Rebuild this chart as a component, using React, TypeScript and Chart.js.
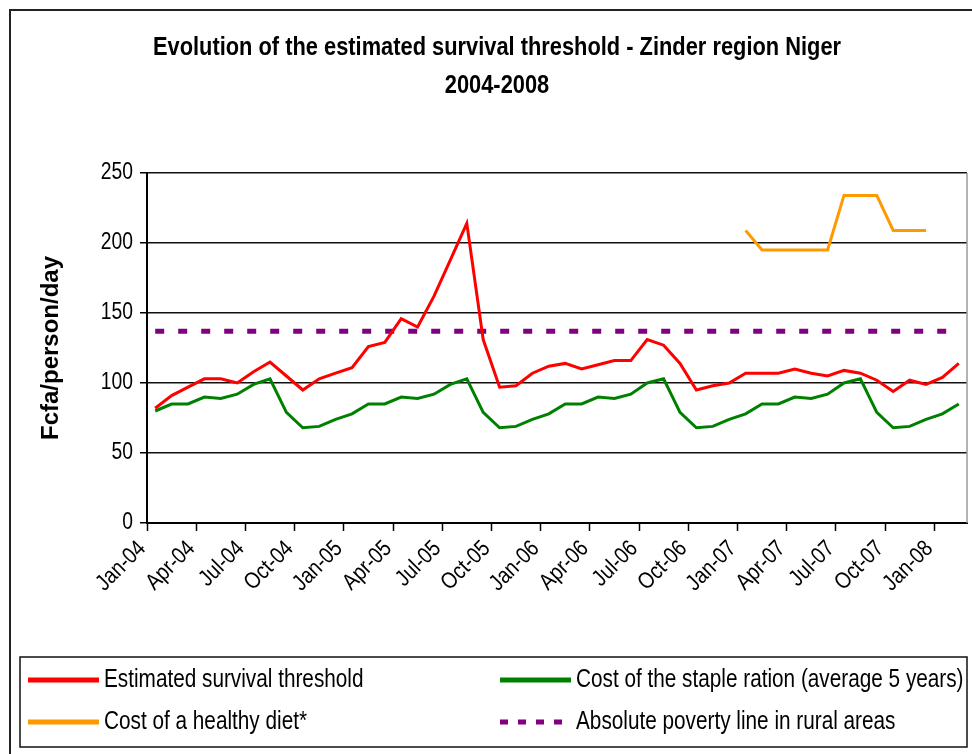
import React, { useEffect, useRef } from 'react';
import { Chart, registerables } from 'chart.js';

Chart.register(...registerables);

// ---------- data ----------
const months = [
  'Jan-04', 'Feb-04', 'Mar-04', 'Apr-04', 'May-04', 'Jun-04', 'Jul-04', 'Aug-04', 'Sep-04', 'Oct-04', 'Nov-04', 'Dec-04',
  'Jan-05', 'Feb-05', 'Mar-05', 'Apr-05', 'May-05', 'Jun-05', 'Jul-05', 'Aug-05', 'Sep-05', 'Oct-05', 'Nov-05', 'Dec-05',
  'Jan-06', 'Feb-06', 'Mar-06', 'Apr-06', 'May-06', 'Jun-06', 'Jul-06', 'Aug-06', 'Sep-06', 'Oct-06', 'Nov-06', 'Dec-06',
  'Jan-07', 'Feb-07', 'Mar-07', 'Apr-07', 'May-07', 'Jun-07', 'Jul-07', 'Aug-07', 'Sep-07', 'Oct-07', 'Nov-07', 'Dec-07',
  'Jan-08', 'Feb-08',
];

const survivalThreshold = [
  82, 91, 97, 103, 103, 100, 108, 115, 105, 95, 103, 107,
  111, 126, 129, 146, 140, 162, 188, 214, 131, 97, 98, 107,
  112, 114, 110, 113, 116, 116, 131, 127, 114, 95, 98, 100,
  107, 107, 107, 110, 107, 105, 109, 107, 102, 94, 102, 99,
  104, 114,
];

const stapleRationCost = [
  80, 85, 85, 90, 89, 92, 99, 103, 79, 68, 69, 74,
  78, 85, 85, 90, 89, 92, 99, 103, 79, 68, 69, 74,
  78, 85, 85, 90, 89, 92, 100, 103, 79, 68, 69, 74,
  78, 85, 85, 90, 89, 92, 100, 103, 79, 68, 69, 74,
  78, 85,
];

const healthyDietCost = [
  null, null, null, null, null, null, null, null, null, null, null, null,
  null, null, null, null, null, null, null, null, null, null, null, null,
  null, null, null, null, null, null, null, null, null, null, null, null,
  209, 195, 195, 195, 195, 195, 234, 234, 234, 209, 209, 209,
  null, null,
];

const povertyLine = [
  137, 137, 137, 137, 137, 137, 137, 137, 137, 137, 137, 137,
  137, 137, 137, 137, 137, 137, 137, 137, 137, 137, 137, 137,
  137, 137, 137, 137, 137, 137, 137, 137, 137, 137, 137, 137,
  137, 137, 137, 137, 137, 137, 137, 137, 137, 137, 137, 137,
  137, 137,
];

const seriesNames = [
  'Estimated survival threshold',
  'Cost of the staple ration (average 5 years)',
  'Cost of a healthy diet*',
  'Absolute poverty line in rural areas',
];

const titleLines = ['Evolution of the estimated survival threshold - Zinder region Niger', '2004-2008'];
const yAxisTitle = 'Fcfa/person/day';
const yMin = 0;
const yMax = 250;
const yStep = 50;
const labelEvery = 3;

// ---------- styling ----------
const SANS = "'Liberation Sans', Arial, sans-serif";
const NARROW_X = 0.82; // horizontal squeeze to imitate Arial Narrow

function narrowText(
  ctx: CanvasRenderingContext2D,
  text: string,
  x: number,
  y: number,
  font: string,
  align: CanvasTextAlign,
  sx: number,
  rotation = 0,
) {
  ctx.save();
  ctx.translate(x, y);
  if (rotation) ctx.rotate(rotation);
  ctx.scale(sx, 1);
  ctx.font = font;
  ctx.textAlign = align;
  ctx.textBaseline = 'middle';
  ctx.fillStyle = '#000';
  ctx.fillText(text, 0, 0);
  ctx.restore();
}

const framePlugin = {
  id: 'frameAndText',
  beforeDatasetsDraw(chart: any) {
    const { ctx, chartArea } = chart;
    ctx.save();
    ctx.strokeStyle = '#9a9a9a';
    ctx.lineWidth = 1.5;
    ctx.beginPath();
    ctx.moveTo(chartArea.right, chartArea.top);
    ctx.lineTo(chartArea.right, chartArea.bottom);
    ctx.stroke();
    ctx.restore();
  },
  afterDraw(chart: any) {
    const { ctx, width, height, chartArea } = chart;
    ctx.save();
    // outer frame
    ctx.strokeStyle = '#222';
    ctx.lineWidth = 2;
    ctx.beginPath();
    ctx.moveTo(10, height);
    ctx.lineTo(10, 10);
    ctx.lineTo(width, 10);
    ctx.stroke();
    ctx.restore();

    // title
    const titleX = 497;
    titleLines.forEach((line, i) => {
      narrowText(ctx, line, titleX, 48 + i * 38, `bold 26px ${SANS}`, 'center', 0.84);
    });

    // y tick labels
    const ys = chart.scales.y;
    ys.ticks.forEach((t: any) => {
      const py = ys.getPixelForValue(t.value);
      narrowText(ctx, String(t.value), chartArea.left - 14, py, `23px ${SANS}`, 'right', 0.84);
    });

    // x tick labels (rotated 45°)
    const xs = chart.scales.x;
    xs.ticks.forEach((_t: any, i: number) => {
      if (i % labelEvery !== 0) return;
      const px = xs.getPixelForTick(i);
      narrowText(ctx, months[i], px - 13, chartArea.bottom + 22, `23px ${SANS}`, 'right', 0.85, -Math.PI / 4);
    });

    // legend box
    ctx.save();
    const bx = 20, by = 657, bw = 947, bh = 90;
    ctx.strokeStyle = '#111';
    ctx.lineWidth = 1.5;
    ctx.strokeRect(bx, by, bw, bh);

    const cols = [28, 500];
    const rows = [680, 722];
    const sampleLen = 71;
    chart.data.datasets.forEach((d: any, i: number) => {
      const x = cols[i % 2];
      const y = rows[Math.floor(i / 2)];
      ctx.beginPath();
      ctx.strokeStyle = d.borderColor;
      ctx.setLineDash(d.borderDash && d.borderDash.length ? [8, 10] : []);
      ctx.lineWidth = 5;
      ctx.lineCap = 'butt';
      ctx.moveTo(x, y);
      ctx.lineTo(x + sampleLen, y);
      ctx.stroke();
      ctx.setLineDash([]);
      narrowText(ctx, d.label, x + sampleLen + 5, y, `25px ${SANS}`, 'left', 0.83);
    });
    ctx.restore();
  },
};

export default function App() {
  const canvasRef = useRef<HTMLCanvasElement | null>(null);

  useEffect(() => {
    if (!canvasRef.current) return;
    const chart = new Chart(canvasRef.current, {
      type: 'line',
      data: {
        labels: months,
        datasets: [
          {
            label: seriesNames[0],
            data: survivalThreshold,
            borderColor: '#FF0000',
            borderWidth: 3,
            pointRadius: 0,
            tension: 0,
            fill: false,
            order: 1,
          },
          {
            label: seriesNames[1],
            data: stapleRationCost,
            borderColor: '#008000',
            borderWidth: 3,
            pointRadius: 0,
            tension: 0,
            fill: false,
            order: 2,
          },
          {
            label: seriesNames[2],
            data: healthyDietCost,
            borderColor: '#FF9900',
            borderWidth: 3,
            pointRadius: 0,
            tension: 0,
            fill: false,
            spanGaps: false,
            order: 3,
          },
          {
            label: seriesNames[3],
            data: povertyLine,
            borderColor: '#800080',
            borderWidth: 5,
            borderDash: [9, 14],
            borderCapStyle: 'butt',
            pointRadius: 0,
            tension: 0,
            fill: false,
            order: 4,
          },
        ],
      },
      options: {
        responsive: false,
        animation: false,
        devicePixelRatio: 1,
        layout: { padding: { left: 27, right: 5, top: 173, bottom: 111 } },
        plugins: {
          legend: { display: false },
          tooltip: { enabled: false },
          title: { display: false },
        },
        scales: {
          x: {
            type: 'category',
            offset: true,
            grid: {
              offset: true,
              drawOnChartArea: false,
              tickLength: 8,
              tickWidth: 1.5,
              tickColor: (c: any) => (typeof c.index === 'number' && c.index % labelEvery === 0 ? '#000' : 'rgba(0,0,0,0)'),
            },
            border: { color: '#000', width: 2 },
            ticks: {
              display: false,
              autoSkip: false,
            },
            afterFit: (s: any) => {
              s.height = 120;
            },
          },
          y: {
            min: yMin,
            max: yMax,
            grid: {
              color: '#111',
              lineWidth: 1.5,
              tickLength: 7,
              tickColor: '#000',
            },
            border: { color: '#000', width: 2 },
            ticks: {
              display: false,
              stepSize: yStep,
            },
            title: {
              display: true,
              text: yAxisTitle,
              color: '#000',
              font: { family: SANS, size: 24, weight: 'bold' },
              padding: { top: 10, bottom: 0 },
            },
            afterFit: (s: any) => {
              s.width = 120;
            },
          },
        },
      },
      plugins: [framePlugin],
    });
    return () => chart.destroy();
  }, []);

  return (
    <div style={{ position: 'absolute', left: 0, top: 0, width: 972, height: 754, background: '#fff' }}>
      <canvas ref={canvasRef} width={972} height={754} style={{ width: 972, height: 754, display: 'block' }} />
    </div>
  );
}
